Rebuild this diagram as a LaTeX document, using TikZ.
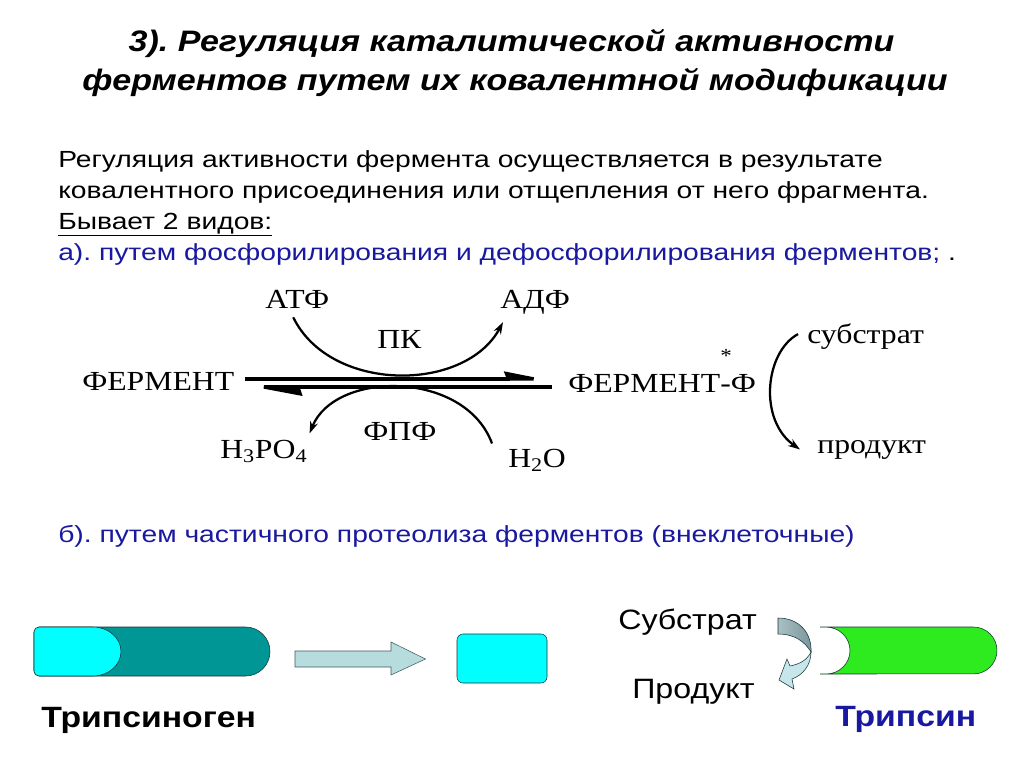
\documentclass[tikz,border=0pt]{standalone}
\usepackage{fontspec}
\setmainfont{Liberation Sans}[FakeStretch=1.15]
\newfontfamily\parf{Liberation Sans}[FakeStretch=1.21]
\newfontfamily\serf{Liberation Serif}[FakeStretch=1.15]
\usetikzlibrary{arrows.meta, calc}
\definecolor{ftblue}{RGB}{24,24,160}
\definecolor{tealp}{RGB}{0,150,150}
\definecolor{cyanp}{RGB}{0,255,255}
\definecolor{greenp}{RGB}{45,235,30}
\definecolor{arrowp}{RGB}{182,220,222}
\definecolor{outl}{RGB}{20,50,50}
\frenchspacing

\begin{document}
\begin{tikzpicture}[x=0.75pt, y=-0.75pt,
    hd/.style={font=\fontsize{22.2}{27}\selectfont\bfseries\itshape, anchor=base, inner sep=0pt},
    txt/.style={font=\parf\fontsize{17.5}{21}\selectfont, anchor=base west, inner sep=0pt},
    chem/.style={font=\serf\fontsize{20.7}{24}\selectfont, anchor=base west, inner sep=0pt},
    lbl/.style={font=\fontsize{21}{25}\selectfont, anchor=base west, inner sep=0pt},
    big/.style={font=\fontsize{22}{26}\selectfont\bfseries, anchor=base west, inner sep=0pt},
    curv/.style={line width=1.7pt, -{Stealth[length=9pt, width=6pt]}}]
    \fill[white] (0,0) rectangle (1024,767);
    \useasboundingbox (0,0) rectangle (1024,767);
    % Title
    \node [hd] (t1) at (511.5,52) {3). Регуляция каталитической активности};
    \node [hd] (t2) at (515,90) {ферментов путем их ковалентной модификации};
    % Text
    \node [txt] (p1) at (58,167) {Регуляция активности фермента осуществляется в результате};
    \node [txt] (p2) at (58,198) {ковалентного присоединения или отщепления от него фрагмента.};
    \node [txt] (p3) at (58,229) {\underline{Бывает 2 видов:}};
    \node [txt, text=ftblue] (p4) at (58,260) {а). путем фосфорилирования и дефосфорилирования ферментов; \textcolor{black}{.}};
    % Phosphorylation
    \node [chem] (atf) at (265,308) {АТФ};
    \node [chem] (adf) at (500,308) {АДФ};
    \node [chem] (pk) at (377,348) {ПК};
    \node [chem] (enz) at (82,390) {ФЕРМЕНТ};
    \node [chem] (enzp) at (568,392) {ФЕРМЕНТ-Ф};
    \node [chem, font=\serf\fontsize{15}{18}\selectfont] (star) at (720,362) {*};
    \node [chem] (fpf) at (363,440) {ФПФ};
    \node [chem] (hpo) at (220,458) {H\textsubscript{3}PO\textsubscript{4}};
    \node [chem] (hoh) at (508,467) {H\textsubscript{2}O};
    \node [chem] (sub) at (807,343) {субстрат};
    \node [chem] (prod) at (817,453) {продукт};
    \draw [curv] ($(atf.south)+(-4,9)$) .. controls (330,393) and (465,393) .. ($(adf.south west)+(3,8)$);
    \draw [curv] ($(hoh.north west)+(-16,-5)$) .. controls (465,370) and (335,370) .. ($(hpo.north east)+(2,-6)$);
    \draw [curv] ($(sub.west)+(-9,-2)$) .. controls (765,352) and (758,420) .. ($(prod.west)+(-17,0)$);
    \draw [line width=2.6pt, -{Stealth[harpoon, length=29pt, width=11pt, inset=2pt]}]
        ($(enz.east)+(10,-2)$) -- ($(enz.east -| enzp.west)+(-16,-2)$);
    \draw [line width=2.6pt, -{Stealth[harpoon, length=36pt, width=13pt, inset=2pt]}]
        ($(enz.east -| enzp.west)+(-16,6)$) -- ($(enz.east)+(10,6)$);
    % Proteolysis
    \node [txt, text=ftblue] (p5) at (58,542) {б). путем частичного протеолиза ферментов (внеклеточные)};
    \draw [draw=outl, fill=tealp] (39,627) -- (245.5,627) arc [start angle=90, end angle=-90, radius=18.375pt]
        -- (39,676) arc [start angle=-90, end angle=-180, radius=3.75pt]
        -- (34,632) arc [start angle=180, end angle=90, radius=3.75pt] -- cycle;
    \draw [draw=outl, fill=cyanp] (39,627) -- (93,627) arc [start angle=90, end angle=-90, x radius=21pt, y radius=18.375pt]
        -- (39,676) arc [start angle=-90, end angle=-180, radius=3.75pt]
        -- (34,632) arc [start angle=180, end angle=90, radius=3.75pt] -- cycle;
    \draw [draw=outl!80, fill=arrowp] (295,651) -- (391,651) -- (391,642) -- (425.5,659)
        -- (391,675) -- (391,667) -- (295,667) -- cycle;
    \draw [draw=outl, fill=cyanp, rounded corners=4.5pt] (457,634) rectangle (547,683);
    \node [big] (tg) at (41,727) {Трипсиноген};
    \node [lbl] (sb) at (618,629) {Субстрат};
    \node [lbl] (pr) at (632,698) {Продукт};
    % curved arrow
    \draw [draw=outl, left color={rgb,255:red,170;green,192;blue,195}, right color={rgb,255:red,120;green,150;blue,156}]
        (778,618) .. controls (800,618) and (812,634) .. (811,652)
        .. controls (805,642) and (795,634) .. (778,634) -- cycle;
    \draw [draw=outl, fill={rgb,255:red,198;green,230;blue,235}]
        (811,652) .. controls (811,665) and (803,675) .. (792,679) -- (794,689) -- (779,680)
        -- (787,659) -- (790,666) .. controls (800,664) and (807,660) .. (811,652) -- cycle;
    \draw [draw=outl, fill=greenp] (820,627) -- (973.5,627) arc [start angle=90, end angle=-90, radius=17.6pt]
        -- (820,674) -- (826,674) arc [start angle=-90, end angle=90, x radius=18pt, y radius=17.6pt] -- cycle;
    \node [big, text=ftblue] (tr) at (835,726) {Трипсин};
\end{tikzpicture}
\end{document}
